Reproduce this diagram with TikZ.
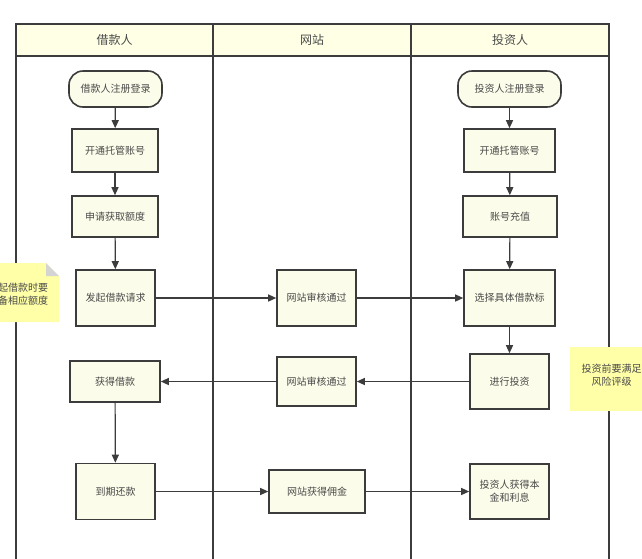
\documentclass[tikz,border=0pt]{standalone}
\usepackage{fontspec}
\setmainfont{Noto Sans CJK SC}
\usetikzlibrary{arrows.meta,positioning}

\definecolor{lanefill}{HTML}{FFFFE6}
\definecolor{boxfill}{HTML}{FCFCEA}
\definecolor{notefill}{HTML}{FFFFA8}
\definecolor{foldgray}{HTML}{D4D4D4}
\definecolor{linegray}{HTML}{3C3C3C}
\definecolor{textgray}{HTML}{4A4A4A}

\tikzset{
  lane/.style={draw=linegray, line width=1.3pt},
  proc/.style={draw=linegray, line width=1.6pt, fill=boxfill, text=textgray,
    font=\fontsize{10}{13}\selectfont, align=center, inner sep=0pt},
  startbox/.style={proc, rounded corners=14pt},
  notetext/.style={text=textgray, font=\fontsize{10}{13}\selectfont, align=center},
  flow/.style={draw=linegray, line width=1.2pt, -{Triangle[length=8pt,width=7pt]}},
}

\begin{document}
\begin{tikzpicture}[x=1pt,y=-1pt]
                \useasboundingbox (0,0) rectangle (642,558);
                \clip (0,0) rectangle (642,558);
                \fill[white] (0,0) rectangle (642,558);

                % swimlanes with header row
                \filldraw[lane, fill=lanefill] (16,24) rectangle (609,56);
                \draw[lane] (16,24) -- (16,570);
                \draw[lane] (213,24) -- (213,570);
                \draw[lane] (411,24) -- (411,570);
                \draw[lane] (609,24) -- (609,570);
                \node[text=textgray, font=\fontsize{12}{14}\selectfont] (h1) at (114.5,40) {借款人};
                \node[text=textgray, font=\fontsize{12}{14}\selectfont] (h2) at (312,40) {网站};
                \node[text=textgray, font=\fontsize{12}{14}\selectfont] (h3) at (510,40) {投资人};

                % sticky notes, cut by the page edge
                \fill[notefill] (-23,263) -- (46,263) -- (59,276) -- (59,322) -- (-23,322) -- cycle;
                \fill[foldgray] (46,263) -- (59,276) -- (46,276) -- cycle;
                \node[notetext] (n1) at (18,294) {发起借款时要\\具备相应额度};
                \fill[notefill] (570,347) rectangle (653,411);
                \node[notetext] (n2) at (611.5,375) {投资前要满足\\风险评级};

                % borrower lane
                \node[startbox, minimum width=93pt, minimum height=36pt] (reg1) at (115.5,89) {借款人注册登录};
                \node[proc, minimum width=86pt, minimum height=43pt] (acct1) at (115,150.5) {开通托管账号};
                \node[proc, minimum width=86pt, minimum height=41pt] (quota) at (115,216.5) {申请获取额度};
                \node[proc, minimum width=79pt, minimum height=56pt] (req) at (115.5,298) {发起借款请求};
                \node[proc, minimum width=90pt, minimum height=41pt] (loan) at (115,381.5) {获得借款};
                \node[proc, minimum width=79pt, minimum height=56pt] (repay) at (115.5,491.5) {到期还款};

                % website lane
                \node[proc, minimum width=79pt, minimum height=56pt] (audit1) at (316.5,298) {网站审核通过};
                \node[proc, minimum width=79pt, minimum height=49pt] (audit2) at (316.5,381.5) {网站审核通过};
                \node[proc, minimum width=96pt, minimum height=43pt] (fee) at (317,491.5) {网站获得佣金};

                % investor lane
                \node[startbox, minimum width=103pt, minimum height=36pt] (reg2) at (509.5,89) {投资人注册登录};
                \node[proc, minimum width=91pt, minimum height=43pt] (acct2) at (509.5,150.5) {开通托管账号};
                \node[proc, minimum width=94pt, minimum height=41pt] (charge) at (510,216.5) {账号充值};
                \node[proc, minimum width=91pt, minimum height=56pt] (pick) at (509.5,298) {选择具体借款标};
                \node[proc, minimum width=79pt, minimum height=55pt] (invest) at (509.5,381.5) {进行投资};
                \node[proc, minimum width=79pt, minimum height=55pt] (gain) at (509.5,491.5) {投资人获得本\\金和利息};

                % connectors
                \draw[flow] (reg1) -- (acct1);
                \draw[flow] (acct1) -- (quota);
                \draw[flow] (quota) -- (req);
                \draw[flow] (req) -- (audit1);
                \draw[flow] (audit1) -- (pick);
                \draw[flow] (reg2) -- (acct2);
                \draw[flow] (acct2) -- (charge);
                \draw[flow] (charge) -- (pick);
                \draw[flow] (pick) -- (invest);
                \draw[flow] (invest) -- (audit2);
                \draw[flow] (audit2) -- (loan);
                \draw[flow] (loan) -- (repay);
                \draw[flow] (repay) -- (fee);
                \draw[flow] (fee) -- (gain);
            \end{tikzpicture}
\end{document}
